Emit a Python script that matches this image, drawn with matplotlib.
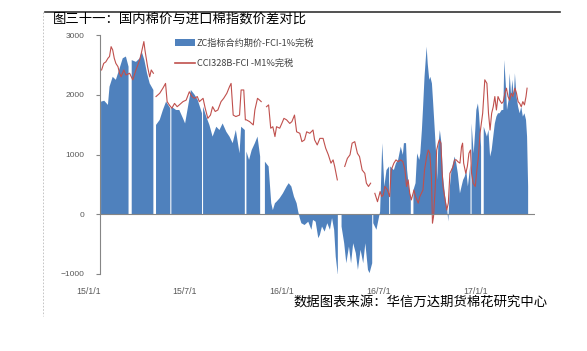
import numpy as np
import pandas as pd
import matplotlib
matplotlib.use('Agg')
import matplotlib.pyplot as plt
import matplotlib.transforms as mtransforms
from matplotlib.lines import Line2D
from matplotlib.patches import Patch

plt.rcParams['font.family'] = ['Noto Sans CJK SC', 'DejaVu Sans']

nan = np.nan

# ZC指标合约期价-FCI-1%完税 (blue area), NaN = no data
zc_dates = [
    '2015-01-03', '2015-01-09', '2015-01-16', '2015-01-19', '2015-01-25', '2015-01-31', '2015-02-07',
    '2015-02-13', '2015-02-19', '2015-02-24', '2015-02-27', '2015-03-02', '2015-03-10', '2015-03-17',
    '2015-03-21', '2015-03-26', '2015-03-31', '2015-04-05', '2015-04-12', '2015-04-15', '2015-04-17',
    '2015-04-24', '2015-04-30', '2015-05-06', '2015-05-14', '2015-05-15', '2015-05-16', '2015-05-25',
    '2015-05-31', '2015-06-07', '2015-06-11', '2015-06-16', '2015-06-22', '2015-06-29', '2015-07-05',
    '2015-07-13', '2015-07-14', '2015-07-15', '2015-07-21', '2015-07-27', '2015-08-02', '2015-08-09',
    '2015-08-15', '2015-08-21', '2015-08-28', '2015-09-03', '2015-09-09', '2015-09-15', '2015-09-22',
    '2015-09-25', '2015-10-02', '2015-10-04', '2015-10-05', '2015-10-10', '2015-10-15', '2015-10-21',
    '2015-10-26', '2015-10-31', '2015-11-05', '2015-11-09', '2015-11-16', '2015-11-21', '2015-11-24',
    '2015-11-28', '2015-12-01', '2015-12-07', '2015-12-13', '2015-12-20', '2015-12-24', '2015-12-29',
    '2016-01-03', '2016-01-08', '2016-01-11', '2016-01-14', '2016-01-17', '2016-01-23', '2016-01-30',
    '2016-02-05', '2016-02-08', '2016-02-13', '2016-02-18', '2016-02-21', '2016-02-25', '2016-03-01',
    '2016-03-06', '2016-03-11', '2016-03-15', '2016-03-19', '2016-03-22', '2016-03-26', '2016-03-29',
    '2016-04-02', '2016-04-07', '2016-04-11', '2016-04-16', '2016-04-20', '2016-04-24', '2016-04-29',
    '2016-05-03', '2016-05-08', '2016-05-13', '2016-05-17', '2016-05-22', '2016-05-25', '2016-05-30',
    '2016-05-31', '2016-06-01', '2016-06-07', '2016-06-12', '2016-06-14', '2016-06-18', '2016-06-22',
    '2016-06-26', '2016-07-01', '2016-07-02', '2016-07-03', '2016-07-10', '2016-07-14', '2016-07-18',
    '2016-07-23', '2016-07-27', '2016-07-29', '2016-08-02', '2016-08-04', '2016-08-08', '2016-08-11',
    '2016-08-13', '2016-08-16', '2016-08-20', '2016-08-23', '2016-08-27', '2016-08-29', '2016-09-01',
    '2016-09-03', '2016-09-06', '2016-09-10', '2016-09-12', '2016-09-15', '2016-09-17', '2016-09-20',
    '2016-09-22', '2016-09-25', '2016-09-29', '2016-09-30', '2016-10-02', '2016-10-05', '2016-10-08',
    '2016-10-11', '2016-10-15', '2016-10-19', '2016-10-21', '2016-10-24', '2016-10-27', '2016-10-30',
    '2016-11-02', '2016-11-05', '2016-11-08', '2016-11-12', '2016-11-15', '2016-11-18', '2016-11-21',
    '2016-11-24', '2016-11-27', '2016-12-02', '2016-12-03', '2016-12-04', '2016-12-08', '2016-12-11',
    '2016-12-13', '2016-12-16', '2016-12-18', '2016-12-22', '2016-12-24', '2016-12-27', '2017-01-02',
    '2017-01-05', '2017-01-08', '2017-01-11', '2017-01-14', '2017-01-17', '2017-01-20', '2017-01-23',
    '2017-01-26', '2017-01-30', '2017-02-02', '2017-02-04', '2017-02-07', '2017-02-09', '2017-02-12',
    '2017-02-14', '2017-02-17', '2017-02-19', '2017-02-22', '2017-02-24', '2017-02-27', '2017-03-02',
    '2017-03-05', '2017-03-08', '2017-03-11', '2017-03-14', '2017-03-17', '2017-03-19', '2017-03-21',
]
zc_values = [
    1885, 1900, 1830, 2135, 2300, 2250, 2440,
    2610, 2640, 2470, nan, 2580, 2550, 2610,
    2720, 2580, 2360, 2190, 2080, nan, 1495,
    1580, 1745, 1885, 1775, nan, 1800, 1745,
    1745, 1605, 1520, 1775, 2080, 2000, 1910,
    1690, nan, 1800, 1635, 1495, 1300, 1465,
    1410, 1520, 1380, 1300, 1190, 1410, 1020,
    1465, 1410, nan, 1050, 910, 1075, 1190,
    1300, 965, nan, 880, 800, 185, 70,
    185, 210, 270, 350, 465, 520, 465,
    295, 185, 45, -65, -150, -180, -125,
    -260, -95, -125, -400, -345, -205, -290,
    -150, -260, -65, -260, -710, -1020, nan,
    -205, -485, -820, -540, -820, -485, -650,
    -930, -595, -820, -485, -930, -985, -820,
    nan, -150, -260, -40, 45, 1190, 465,
    740, 800, nan, 800, 740, 855, 910,
    1130, 995, 1190, 1190, 740, 405, 295,
    nan, 405, 520, 1020, 910, 1020, 1410,
    1745, 2300, 2805, 2525, 2250, 2300, 2190,
    1910, 1465, 855, 575, 1130, 1410, 1190,
    630, 295, 70, -120, 465, 740, 855,
    965, 855, 685, 350, 465, 575, 630,
    740, 465, 855, nan, 1520, 1020, 1410,
    1745, 1855, 1690, 1130, nan, 1465, 1300,
    1410, 965, 1075, 1300, 1520, 1635, 1690,
    1690, 1745, 1745, 2580, 2135, 1745, 1910,
    2360, 1970, 2250, 1970, 2360, 1970, 1800,
    1690, 1800, 1635, 1690, 1580, 1300, 465,
]

# CCI328B-FCI -M1%完税 (red line), NaN = break
cci_dates = [
    '2015-01-04', '2015-01-08', '2015-01-12', '2015-01-16', '2015-01-19', '2015-01-22', '2015-01-25',
    '2015-01-28', '2015-01-31', '2015-02-04', '2015-02-07', '2015-02-10', '2015-02-15', '2015-02-19',
    '2015-02-26', '2015-03-04', '2015-03-10', '2015-03-17', '2015-03-20', '2015-03-25', '2015-03-27',
    '2015-04-01', '2015-04-05', '2015-04-08', '2015-04-12', '2015-04-15', '2015-04-17', '2015-04-24',
    '2015-04-30', '2015-05-05', '2015-05-08', '2015-05-12', '2015-05-17', '2015-05-22', '2015-05-27',
    '2015-05-31', '2015-06-07', '2015-06-13', '2015-06-19', '2015-06-24', '2015-06-29', '2015-07-04',
    '2015-07-08', '2015-07-15', '2015-07-19', '2015-07-24', '2015-07-29', '2015-08-02', '2015-08-07',
    '2015-08-12', '2015-08-18', '2015-08-23', '2015-08-29', '2015-09-03', '2015-09-06', '2015-09-10',
    '2015-09-15', '2015-09-22', '2015-09-25', '2015-09-30', '2015-10-03', '2015-10-05', '2015-10-11',
    '2015-10-18', '2015-10-21', '2015-10-26', '2015-10-30', '2015-11-02', '2015-11-07', '2015-11-12',
    '2015-11-16', '2015-11-20', '2015-11-24', '2015-11-28', '2015-12-01', '2015-12-07', '2015-12-11',
    '2015-12-15', '2015-12-20', '2015-12-26', '2015-12-30', '2016-01-04', '2016-01-08', '2016-01-14',
    '2016-01-18', '2016-01-23', '2016-01-27', '2016-02-02', '2016-02-08', '2016-02-11', '2016-02-16',
    '2016-02-21', '2016-02-27', '2016-03-03', '2016-03-08', '2016-03-13', '2016-03-17', '2016-03-20',
    '2016-03-25', '2016-04-01', '2016-04-08', '2016-04-13', '2016-04-18', '2016-04-22', '2016-04-27',
    '2016-05-02', '2016-05-06', '2016-05-11', '2016-05-16', '2016-05-19', '2016-05-23', '2016-05-27',
    '2016-05-31', '2016-06-04', '2016-06-09', '2016-06-14', '2016-06-17', '2016-06-20', '2016-06-23',
    '2016-06-28', '2016-07-02', '2016-07-05', '2016-07-10', '2016-07-14', '2016-07-18', '2016-07-23',
    '2016-07-27', '2016-07-31', '2016-08-03', '2016-08-06', '2016-08-09', '2016-08-12', '2016-08-17',
    '2016-08-20', '2016-08-25', '2016-08-28', '2016-08-31', '2016-09-03', '2016-09-06', '2016-09-10',
    '2016-09-13', '2016-09-16', '2016-09-19', '2016-09-21', '2016-09-23', '2016-09-26', '2016-09-29',
    '2016-10-02', '2016-10-04', '2016-10-07', '2016-10-09', '2016-10-11', '2016-10-15', '2016-10-18',
    '2016-10-21', '2016-10-24', '2016-10-27', '2016-10-30', '2016-11-02', '2016-11-05', '2016-11-08',
    '2016-11-12', '2016-11-15', '2016-11-17', '2016-11-19', '2016-11-23', '2016-11-26', '2016-11-29',
    '2016-12-02', '2016-12-04', '2016-12-07', '2016-12-11', '2016-12-14', '2016-12-17', '2016-12-20',
    '2016-12-25', '2016-12-29', '2017-01-02', '2017-01-05', '2017-01-08', '2017-01-11', '2017-01-14',
    '2017-01-17', '2017-01-20', '2017-01-23', '2017-01-26', '2017-01-30', '2017-02-02', '2017-02-05',
    '2017-02-08', '2017-02-11', '2017-02-14', '2017-02-17', '2017-02-20', '2017-02-24', '2017-02-27',
    '2017-03-02', '2017-03-05', '2017-03-08', '2017-03-11', '2017-03-14', '2017-03-17', '2017-03-19',
]
cci_values = [
    2415, 2525, 2550, 2610, 2640, 2805, 2750,
    2610, 2525, 2470, 2360, 2300, 2415, 2330,
    2360, 2250, 2415, 2580, 2690, 2890, 2750,
    2470, 2300, 2415, 2360, nan, 1970, 2025,
    2110, 2190, 1885, 1830, 1775, 1855, 1800,
    1830, 1885, 1910, 2050, 1970, 1940, 1970,
    1885, 1940, 1775, 1605, 1660, 1800, 1720,
    1745, 1885, 1940, 2025, 2135, 2190, 1660,
    1635, 1660, 2080, 2080, 1580, 1580, 1550,
    1495, 1745, 1940, 1910, 1885, nan, 1800,
    1830, 1440, 1465, 1300, 1465, 1440, 1520,
    1605, 1580, 1520, 1550, 1660, 1380, 1355,
    1215, 1245, 1380, 1355, 1410, 1245, 1160,
    1270, 1270, 1105, 995, 855, 910, 800,
    575, nan, 800, 935, 995, 1190, 1215,
    1020, 965, 740, 685, 520, 465, 520,
    nan, 350, 210, 380, 295, 325, 465,
    405, 295, 740, 855, 910, 880, 910,
    880, 740, 465, 575, 350, 240, 405,
    295, 185, 295, 350, 405, 740, 965,
    1075, 1020, 630, -150, -40, 405, 1075,
    1190, 1245, 1190, 740, 465, 240, 70,
    185, 685, 740, 800, 910, 910, 880,
    855, 1130, 1190, 855, 685, 800, 1020,
    1075, 685, 520, 465, 740, 965, 1355,
    1690, 2250, 2190, 1690, 1410, 1690, 1800,
    1970, 1745, 1970, 1910, 1855, 1885, 2025,
    2110, 1970, 1910, 2025, 1970, 2110, 2025,
    1885, 1855, 1800, 1885, 1830, 1970, 2110,
]

tick_dates = ['2015-01-01', '2015-07-01', '2016-01-01', '2016-07-01', '2017-01-01']
tick_labels = ['15/1/1', '15/7/1', '16/1/1', '16/7/1', '17/1/1']

zc_x = pd.to_datetime(zc_dates)
cci_x = pd.to_datetime(cci_dates)

fig = plt.figure(figsize=(5.87, 3.51), dpi=100)
ax = fig.add_axes([100 / 587, 77 / 351, 435 / 587, 239 / 351])

blue = '#4F81BD'
red = '#C0504D'
grey = '#868686'

ax.fill_between(zc_x, 0, np.array(zc_values, dtype=float), color=blue, lw=0, zorder=2)
ax.plot(cci_x, cci_values, color=red, lw=0.8, zorder=3)
ax.axhline(0, color=grey, lw=0.8, zorder=4)

ax.set_ylim(-1000, 3000)
ax.set_yticks([-1000, 0, 1000, 2000, 3000])
ax.set_xlim(pd.Timestamp('2015-01-01'), pd.Timestamp('2017-04-03'))
ax.set_xticks(pd.to_datetime(tick_dates))
ax.set_xticklabels(tick_labels)

for s in ['top', 'right', 'bottom']:
    ax.spines[s].set_visible(False)
ax.spines['left'].set_color(grey)
ax.spines['left'].set_linewidth(0.8)
ax.tick_params(axis='y', colors=grey, labelcolor='#595959', labelsize=6, length=3, width=0.8, pad=8)
ax.tick_params(axis='x', labelcolor='#595959', labelsize=6.3, length=0, pad=9)
for lab in ax.get_yticklabels() + ax.get_xticklabels():
    lab.set_family(['Liberation Sans', 'DejaVu Sans'])

# Excel places these labels a little left of their dates
shift = mtransforms.ScaledTranslation(-11 / 100, 0, fig.dpi_scale_trans)
for lab in ax.get_xticklabels():
    lab.set_transform(lab.get_transform() + shift)

handles = [Patch(facecolor=blue, edgecolor='none'), Line2D([], [], color=red, lw=1.2)]
leg = ax.legend(handles, ['ZC指标合约期价-FCI-1%完税', 'CCI328B-FCI -M1%完税'],
                loc='upper left', bbox_to_anchor=(170 / 587, 1 - 34 / 351), bbox_transform=fig.transFigure,
                frameon=False, fontsize=6.6, handlelength=2.2, handleheight=0.7, handletextpad=0.2,
                labelspacing=1.2, borderpad=0)
for t in leg.get_texts():
    t.set_color('#404040')

fig.text(53 / 587, 1 - 19 / 351, '图三十一：国内棉价与进口棉指数价差对比', fontsize=9.6,
         fontweight='medium', va='center', ha='left')
fig.text(548 / 587, 1 - 302 / 351, '数据图表来源：华信万达期货棉花研究中心', fontsize=9.6,
         fontweight='medium', va='center', ha='right')

# report frame lines
fig.add_artist(Line2D([45 / 587, 560 / 587], [1 - 12 / 351, 1 - 12 / 351], color='#333333', lw=1.2))
fig.add_artist(Line2D([43 / 587, 43 / 587], [1 - 12 / 351, 1 - 316 / 351], color='#bbbbbb', lw=0.6, ls=(0, (2, 2))))

fig.savefig('out.png', dpi=100)
